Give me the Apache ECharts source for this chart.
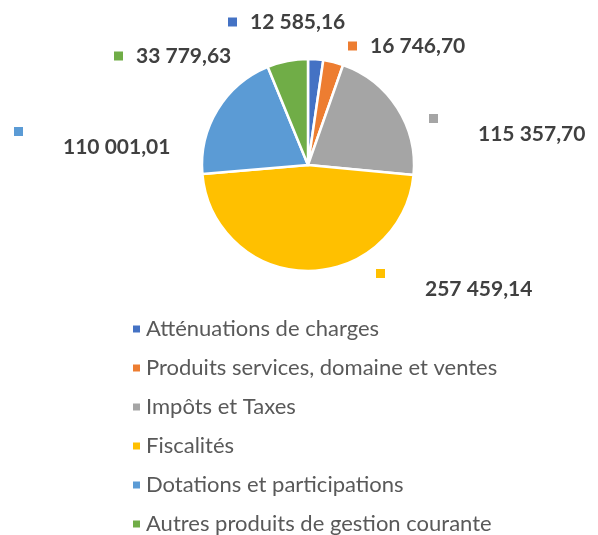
<!DOCTYPE html>
<html>
<head>
<meta charset="utf-8">
<script src="https://cdn.jsdelivr.net/npm/echarts@6/dist/echarts.min.js"></script>
<style>
  html, body { margin: 0; padding: 0; background: #fff; }
  #chart { width: 598px; height: 535px; }
</style>
</head>
<body>
<div id="chart"></div>
<script>
const categories = [
  'Atténuations de charges',
  'Produits services, domaine et ventes',
  'Impôts et Taxes',
  'Fiscalités',
  'Dotations et participations',
  'Autres produits de gestion courante'
]
const values = [12585.16, 16746.70, 115357.70, 257459.14, 110001.01, 33779.63]
const colors = ['#4472C4', '#ED7D31', '#A5A5A5', '#FFC000', '#5B9BD5', '#70AD47']

// where each data label sits (left x, top y) and whether the key is above the number
const labelSpots = [
  { x: 228, y: 11, split: false },
  { x: 348, y: 35, split: false },
  { x: 429, y: 114, split: true },
  { x: 376, y: 269, split: true },
  { x: 14, y: 127, split: true },
  { x: 114, y: 45, split: false }
]

const fmt = v => {
  const [i, d] = v.toFixed(2).split('.')
  return i.replace(/\B(?=(\d{3})+(?!\d))/g, ' ') + ',' + d
}

const rich = { v: { fontSize: 21, fontWeight: 'bold', color: '#404040', fontFamily: 'Lato', lineHeight: 22 } }
colors.forEach((c, i) => {
  rich['m' + i] = { width: 9, height: 9, backgroundColor: c, lineHeight: 9 }
})
rich.gap = { width: 13 }
rich.pad = { width: 49 }

const chart = echarts.init(document.getElementById('chart'))
chart.setOption({
  animation: false,
  color: colors,
  legend: {
    orient: 'vertical',
    left: 126,
    top: 313,
    height: 240,
    icon: 'rect',
    itemWidth: 9,
    itemHeight: 9,
    itemGap: 17,
    itemTextGap: 8,
    textStyle: { fontSize: 22, color: '#595959', fontFamily: 'Lato' },
    data: categories
  },
  series: [{
    type: 'pie',
    center: [308, 165],
    radius: 106,
    startAngle: 90,
    clockwise: true,
    itemStyle: { borderColor: '#fff', borderWidth: 2.5 },
    labelLine: { show: false },
    label: {
      show: true,
      position: 'outside',
      overflow: 'none',
      rich: rich,
      formatter: p => {
        const s = labelSpots[p.dataIndex]
        const m = '{m' + p.dataIndex + '|}'
        return s.split ? m + '\n{pad|}{v|' + fmt(p.value) + '}' : m + '{gap|}{v|' + fmt(p.value) + '}'
      }
    },
    labelLayout: p => {
      const s = labelSpots[p.dataIndex]
      return { x: s.x, y: s.y, align: 'left', verticalAlign: 'top' }
    },
    data: categories.map((name, i) => ({ name, value: values[i] }))
  }]
})
</script>
</body>
</html>
